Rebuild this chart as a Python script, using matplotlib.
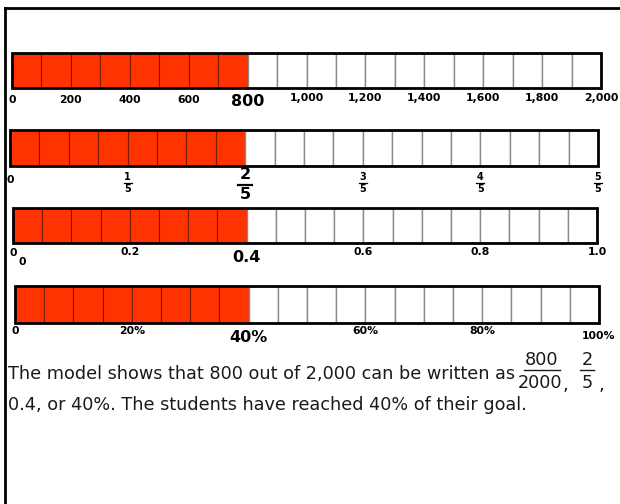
import matplotlib.pyplot as plt
from matplotlib.patches import Rectangle
from matplotlib.transforms import offset_copy

W, H = 620, 504

# data for the four tape diagrams
n_cells = 20
n_filled = 8
tape_totals = [2000, 1.0, 1.0, 100]
tape1_ticks = [0, 200, 400, 600, 800, 1000, 1200, 1400, 1600, 1800, 2000]
tape1_labels = ['0', '200', '400', '600', '800', '1,000', '1,200', '1,400', '1,600', '1,800', '2,000']
tape2_ticks = [0, 0.2, 0.4, 0.6, 0.8, 1.0]
tape2_nums = ['0', '1', '2', '3', '4', '5']
tape3_ticks = [0, 0.2, 0.4, 0.6, 0.8, 1.0]
tape3_labels = ['0', '0.2', '0.4', '0.6', '0.8', '1.0']
tape4_ticks = [0, 20, 40, 60, 80, 100]
tape4_labels = ['0', '20%', '40%', '60%', '80%', '100%']
highlight = [800, 0.4, 0.4, 40]

RED = '#ff3300'
plt.rcParams['font.family'] = ['DejaVu Sans']

fig = plt.figure(figsize=(6.2, 5.04), dpi=100)
bg = fig.add_axes([0, 0, 1, 1])
bg.set_xlim(0, W)
bg.set_ylim(H, 0)
bg.axis('off')

# outer frame
bg.plot([5, 5], [8, 504], color='black', lw=2)
bg.plot([5, 620], [8, 8], color='black', lw=2)


def tape_axes(x0, x1, y0, y1, total):
    ax = fig.add_axes([x0 / W, 1 - y1 / H, (x1 - x0) / W, (y1 - y0) / H])
    ax.set_xlim(0, total)
    ax.set_ylim(0, 1)
    ax.axis('off')
    step = total / n_cells
    for i in range(n_cells):
        if i < n_filled:
            ax.barh(0.5, step, left=i * step, height=1, color=RED,
                    edgecolor='#7a1800', lw=0.8)
        else:
            ax.barh(0.5, step, left=i * step, height=1, color='white',
                    edgecolor='#8a8a8a', lw=1.0)
    ax.add_patch(Rectangle((0, 0), total, 1, fill=False, ec='black', lw=2,
                           clip_on=False))
    return ax


def label(ax, x, dy, s, size=7.8, weight='bold', dx=0):
    # dy = pixels below the bar bottom
    ax.annotate(s, xy=(x, 0), xycoords=('data', 'axes fraction'),
                xytext=(dx * 0.72, -dy * 0.72), textcoords='offset points',
                ha='center', va='center', fontsize=size, fontweight=weight,
                annotation_clip=False)


def frac(ax, x, dy_num, dy_den, num, den, size, lw, half):
    label(ax, x, dy_num, num, size)
    label(ax, x, dy_den, den, size)
    # fraction bar
    line_dy = (dy_num + dy_den) / 2 * 0.72
    tr = offset_copy(ax.get_xaxis_transform(), fig=fig, y=-line_dy, units='points')
    dxv = (ax.get_xlim()[1] - ax.get_xlim()[0]) * half / ax.bbox.width
    ax.plot([x - dxv, x + dxv], [0, 0], color='black', lw=lw, transform=tr,
            clip_on=False)


# tape 1
ax1 = tape_axes(12, 601, 53, 88, tape_totals[0])
for v, s in zip(tape1_ticks, tape1_labels):
    if v == highlight[0]:
        label(ax1, v, 13, s, 11.5)
    elif v >= 1000:
        label(ax1, v, 10, s)
    else:
        label(ax1, v, 12, s)

# tape 2
ax2 = tape_axes(10, 598, 130, 166, tape_totals[1])
for v, n in zip(tape2_ticks, tape2_nums):
    if v == 0:
        label(ax2, v, 14, '0')
    elif v == highlight[1]:
        frac(ax2, v, 9, 29, n, '5', 11.5, 1.6, 7)
    else:
        frac(ax2, v, 11, 23, n, '5', 7, 0.9, 4)

# tape 3
ax3 = tape_axes(13, 597, 208, 243, tape_totals[2])
for v, s in zip(tape3_ticks, tape3_labels):
    if v == highlight[2]:
        label(ax3, v, 14, s, 11.5)
    elif v == 0:
        label(ax3, v, 10, s)
    else:
        label(ax3, v, 9, s)
label(ax3, 0, 19, '0', dx=9)

# tape 4
ax4 = tape_axes(15, 599, 286, 323, tape_totals[3])
for v, s in zip(tape4_ticks, tape4_labels):
    if v == highlight[3]:
        label(ax4, v, 15, s, 11.5)
    elif v == 100:
        label(ax4, v, 13, s)
    else:
        label(ax4, v, 8, s)

# explanation text
txt_color = '#1a1a1a'
fs = 12.7
bg.text(8, 374, 'The model shows that 800 out of 2,000 can be written as',
        fontsize=fs, color=txt_color, va='center', ha='left')
bg.text(542, 360, '800', fontsize=fs, color=txt_color, va='center', ha='center')
bg.plot([524, 560], [370, 370], color=txt_color, lw=1)
bg.text(540, 383, '2000', fontsize=fs, color=txt_color, va='center', ha='center')
bg.text(563, 385, ',', fontsize=fs, color=txt_color, va='center', ha='left')
bg.text(587, 360, '2', fontsize=fs, color=txt_color, va='center', ha='center')
bg.plot([580, 594], [370, 370], color=txt_color, lw=1)
bg.text(587, 383, '5', fontsize=fs, color=txt_color, va='center', ha='center')
bg.text(599, 385, ',', fontsize=fs, color=txt_color, va='center', ha='left')
bg.text(8, 405, '0.4, or 40%. The students have reached 40% of their goal.',
        fontsize=fs, color=txt_color, va='center', ha='left')

fig.savefig('out.png', dpi=100, facecolor='white')
